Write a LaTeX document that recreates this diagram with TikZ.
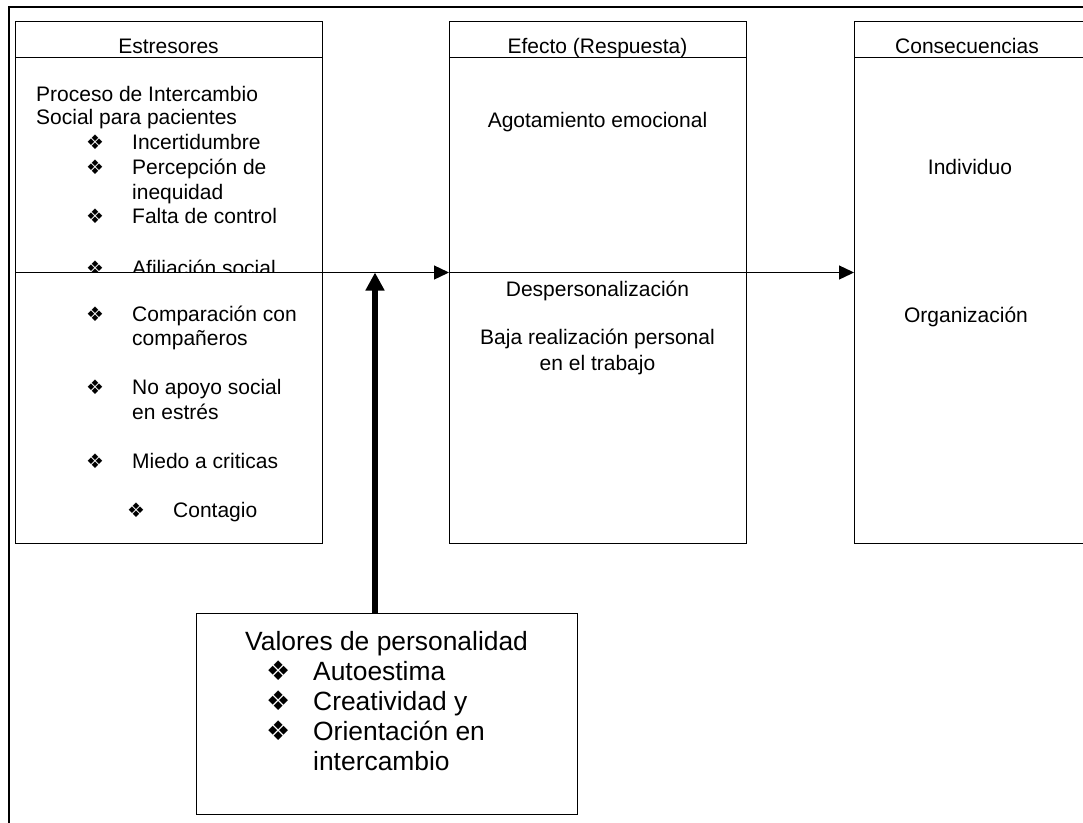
\documentclass[tikz,border=0pt]{standalone}
\usepackage{fontspec}
\setmainfont{Liberation Sans}
\newfontfamily\dejavu{DejaVu Sans}
\usetikzlibrary{arrows.meta,calc}

% text sizes and the list bullet (box width, bullet size, text)
\newcommand\smtext{\fontsize{21}{24}\selectfont}
\newcommand\lgtext{\fontsize{26.4}{30}\selectfont}
\newcommand\bitem[3]{\makebox[#1][l]{{\dejavu\fontsize{#2}{#2}\selectfont ❖}}#3}

\begin{document}
\begin{tikzpicture}[x=1pt,y=-1pt,
  panel/.style={draw, line width=1.3pt, inner sep=0pt, anchor=north west},
  txt/.style={inner sep=0pt, anchor=base west, font=\smtext},
  ctxt/.style={inner sep=0pt, anchor=base, font=\smtext},
  bigtxt/.style={inner sep=0pt, anchor=base west, font=\lgtext},
  thinarrow/.style={line width=1.3pt, -{Triangle[length=15pt,width=14pt]}},
  thickarrow/.style={line width=6pt, -{Triangle[length=18pt,width=18pt]}}]
\useasboundingbox (0,0) rectangle (1083,822);
\clip (0,0) rectangle (1083,822);

% outer frame
\draw[line width=1.8pt] (9,840) -- (9,7) -- (1100,7);

% three panels
\node[panel, minimum width=307pt, minimum height=522pt] (est) at (15,21) {};
\node[panel, minimum width=297pt, minimum height=522pt] (efe) at (449,21) {};
\node[panel, minimum width=250pt, minimum height=522pt] (con) at (854,21) {};
\foreach \p in {est,efe,con}
  \draw[line width=1.3pt] ($(\p.north west)+(0,36.5)$) -- ($(\p.north east)+(0,36.5)$);

% personality box
\node[panel, minimum width=381pt, minimum height=201pt] (val) at (196,613) {};

% headers
\node[ctxt] (h1) at (168.5,53) {Estresores};
\node[ctxt] (h2) at (597.5,53) {Efecto (Respuesta)};
\node[ctxt] (h3) at (967,53) {Consecuencias};

% stressors
\node[txt] (s1) at (36,101) {Proceso de Intercambio};
\node[txt] (s2) at (36,124) {Social para pacientes};
\node[txt] (s3) at (86,149) {\bitem{46pt}{20}{Incertidumbre}};
\node[txt] (s4) at (86,174) {\bitem{46pt}{20}{Percepción de}};
\node[txt] (s5) at (132,199) {inequidad};
\node[txt] (s6) at (86,223) {\bitem{46pt}{20}{Falta de control}};
\begin{scope}
  \clip (15,200) rectangle (322,272.5);
  \node[txt] (s7) at (86,275) {\bitem{46pt}{20}{Afiliación social}};
\end{scope}
\node[txt] (s8) at (86,321) {\bitem{46pt}{20}{Comparación con}};
\node[txt] (s9) at (132,345) {compañeros};
\node[txt] (s10) at (86,394) {\bitem{46pt}{20}{No apoyo social}};
\node[txt] (s11) at (132,419) {en estrés};
\node[txt] (s12) at (86,468) {\bitem{46pt}{20}{Miedo a criticas}};
\node[txt] (s13) at (127,517) {\bitem{46pt}{20}{Contagio}};

% effects
\node[ctxt] (e1) at (597.5,127) {Agotamiento emocional};
\node[ctxt] (e2) at (597.5,296) {Despersonalización};
\node[ctxt] (e3) at (597.5,344) {Baja realización personal};
\node[ctxt] (e4) at (597.5,370) {en el trabajo};

% consequences
\node[ctxt] (c1) at (970,174) {Individuo};
\node[ctxt] (c2) at (966,322) {Organización};

% personality values
\node[bigtxt] (v1) at (245,650) {Valores de personalidad};
\node[bigtxt] (v2) at (266,680) {\bitem{47pt}{27}{Autoestima}};
\node[bigtxt] (v3) at (266,710) {\bitem{47pt}{27}{Creatividad y}};
\node[bigtxt] (v4) at (266,740) {\bitem{47pt}{27}{Orientación en}};
\node[bigtxt] (v5) at (313,770) {intercambio};

% connectors
\coordinate (hstart) at (est.west |- 0,272.5);
\coordinate (vstart) at (375,613);
\draw[thinarrow] (hstart) -- (hstart -| efe.west);
\draw[thinarrow] (hstart -| efe.west) -- (hstart -| con.west);
\draw[thickarrow] (vstart) -- (vstart |- hstart);
\end{tikzpicture}
\end{document}
